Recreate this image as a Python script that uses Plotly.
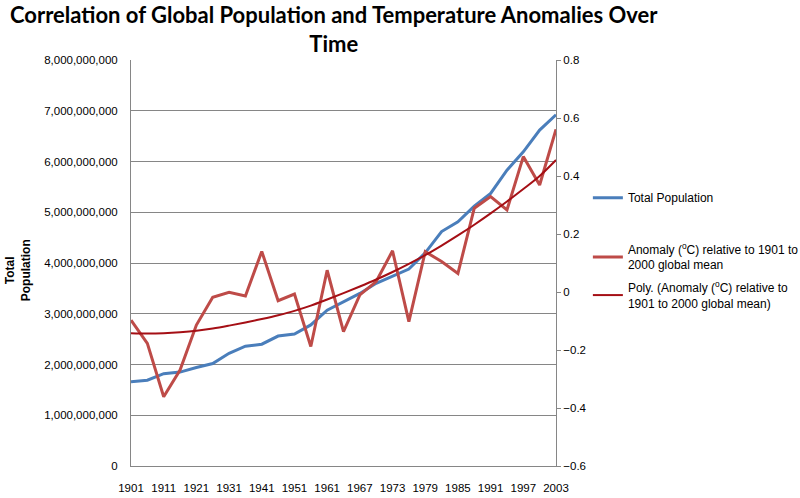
import plotly.graph_objects as go

years = ["1901", "1906", "1911", "1916", "1921", "1926", "1931", "1936", "1941",
         "1946", "1951", "1956", "1961", "1964", "1967", "1970", "1973", "1976",
         "1979", "1982", "1985", "1988", "1991", "1994", "1997", "2000", "2003"]

population = [1.66e9, 1.69e9, 1.82e9, 1.85e9, 1.94e9, 2.02e9, 2.22e9, 2.36e9, 2.40e9,
              2.56e9, 2.60e9, 2.78e9, 3.07e9, 3.24e9, 3.40e9, 3.60e9, 3.74e9, 3.88e9,
              4.20e9, 4.62e9, 4.81e9, 5.12e9, 5.37e9, 5.83e9, 6.19e9, 6.62e9, 6.92e9]

anomaly = [-0.097, -0.177, -0.361, -0.269, -0.114, -0.018, -0.001, -0.014, 0.140,
           -0.030, -0.007, -0.188, 0.075, -0.137, -0.010, 0.036, 0.142, -0.102,
           0.139, 0.105, 0.064, 0.289, 0.329, 0.283, 0.467, 0.369, 0.561]

# polynomial trendline
trend = [-0.142, -0.143, -0.142, -0.139, -0.134, -0.126, -0.116, -0.105, -0.093,
         -0.080, -0.065, -0.047, -0.026, -0.004, 0.019, 0.043, 0.069, 0.097,
         0.127, 0.160, 0.195, 0.232, 0.271, 0.312, 0.355, 0.400, 0.455]

tick_years = years[::2]

blue = "#4A7EBB"
red = "#BE4B48"
dark_red = "#A50F15"
grid = "#868686"
font = "Liberation Sans"

fig = go.Figure()

fig.add_trace(go.Scatter(x=years, y=population, name="Total Population",
                         mode="lines", line=dict(color=blue, width=3),
                         legend="legend"))
fig.add_trace(go.Scatter(x=years, y=anomaly, yaxis="y2",
                         name="Anomaly (<sup>o</sup>C) relative to 1901 to<br>2000 global mean",
                         mode="lines", line=dict(color=red, width=3),
                         legend="legend2"))
fig.add_trace(go.Scatter(x=years, y=trend, yaxis="y2",
                         name="Poly. (Anomaly (<sup>o</sup>C) relative to<br>1901 to 2000 global mean)",
                         mode="lines", line=dict(color=dark_red, width=2, shape="spline"),
                         legend="legend3"))

leg = dict(xanchor="left", yanchor="middle", font=dict(size=12),
           bgcolor="rgba(0,0,0,0)")

fig.update_layout(
    width=800, height=498,
    margin=dict(l=131, r=244, t=60, b=32, autoexpand=False),
    plot_bgcolor="white",
    paper_bgcolor="white",
    showlegend=True,
    font=dict(family=font, size=11, color="#000000"),
    xaxis=dict(
        type="category",
        tickvals=tick_years,
        ticktext=tick_years,
        showline=True, linecolor=grid, linewidth=1,
        showgrid=False, ticks="", tickfont=dict(size=11.5),
        ticklabelstandoff=11,
    ),
    yaxis=dict(
        range=[0, 8e9], dtick=1e9, tickformat=",",
        showline=True, linecolor=grid, linewidth=1,
        showgrid=True, gridcolor=grid, gridwidth=1,
        zeroline=False, ticks="", ticklabelstandoff=10,
        tickfont=dict(size=11.5),
    ),
    yaxis2=dict(
        overlaying="y", side="right",
        range=[-0.6, 0.8], dtick=0.2,
        showline=True, linecolor=grid, linewidth=1,
        showgrid=False, zeroline=False,
        ticks="outside", ticklen=4, tickcolor=grid,
        tickfont=dict(size=11.5),
    ),
    legend=dict(leg, x=1.075, y=0.661),
    legend2=dict(leg, x=1.075, y=0.514),
    legend3=dict(leg, x=1.075, y=0.420),
)

fig.add_annotation(
    text="<b>Correlation of Global Population and Temperature Anomalies Over<br>Time</b>",
    xref="paper", yref="paper", x=0.478, y=1.0, yshift=61,
    xanchor="center", yanchor="top", showarrow=False,
    font=dict(family="Lato", size=22, color="#000000"),
)

fig.add_annotation(
    text="<b>Total<br>Population</b>",
    xref="paper", yref="paper", x=-0.265, y=0.483,
    xanchor="center", yanchor="middle",
    textangle=-90, showarrow=False,
    font=dict(family=font, size=12, color="#000000"),
)

fig.write_html("out.html", config={"displayModeBar": False},
               post_script="document.body.style.margin = '0';")
